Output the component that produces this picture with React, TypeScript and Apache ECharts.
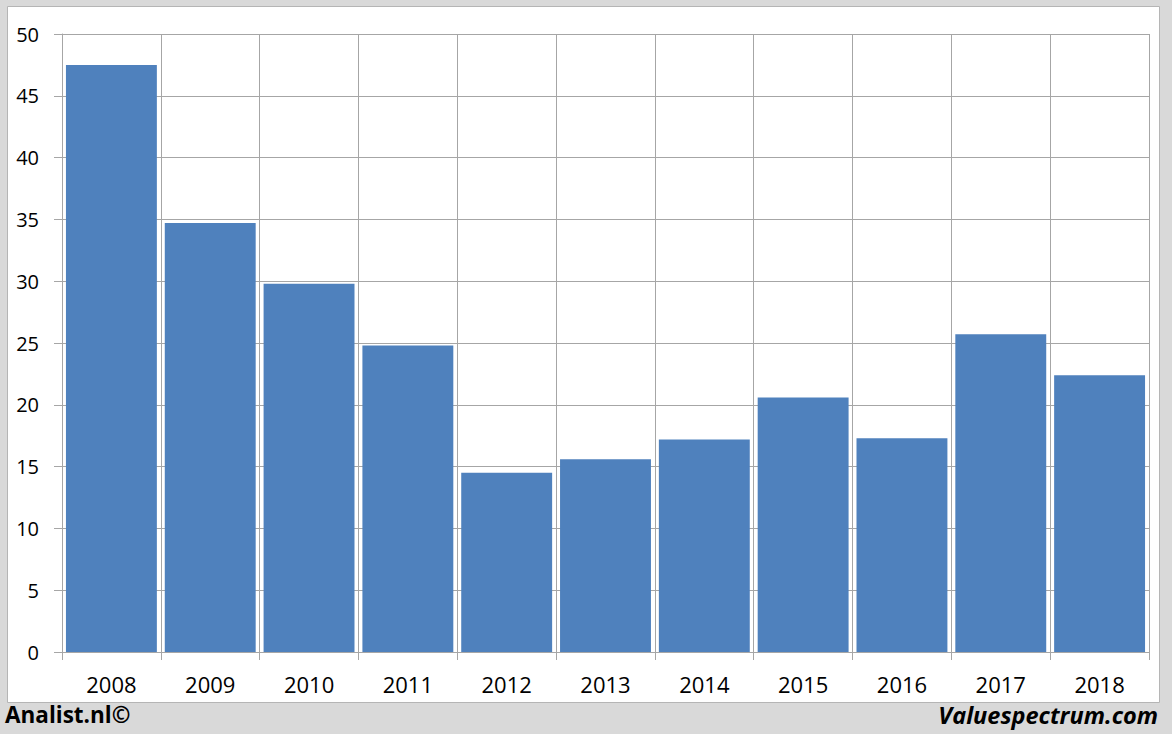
import React, { useEffect, useRef } from "react";
import * as echarts from "echarts";

const years = ["2008", "2009", "2010", "2011", "2012", "2013", "2014", "2015", "2016", "2017", "2018"];
const values = [47.5, 34.7, 29.8, 24.8, 14.5, 15.6, 17.2, 20.6, 17.3, 25.7, 22.4];
const footerLeft = "Analist.nl©";
const footerRight = "Valuespectrum.com";

export default function App() {
  const ref = useRef<HTMLDivElement>(null);
  useEffect(() => {
    document.body.style.margin = "0";
    const chart = echarts.init(ref.current!, null, { renderer: "svg" });
    const gridColor = "#a6a6a6";
    chart.setOption({
      animation: false,
      backgroundColor: "#d9d9d9",
      graphic: [
        {
          type: "rect",
          shape: { x: 7.5, y: 6.5, width: 1152, height: 696 },
          style: { fill: "#ffffff", stroke: "#b5b5b5", lineWidth: 1 },
          z: -10,
          silent: true,
        },
        {
          type: "text",
          left: 5,
          top: 703,
          style: {
            text: footerLeft,
            font: "bold 22.5px 'Open Sans'",
            fill: "#000000",
          },
        },
        {
          type: "text",
          right: 14,
          top: 703,
          style: {
            text: footerRight,
            font: "italic bold 23.5px 'Open Sans'",
            fill: "#000000",
          },
        },
      ],
      grid: { left: 62, top: 34, right: 23, bottom: 82, containLabel: false },
      xAxis: {
        type: "category",
        data: years,
        boundaryGap: true,
        axisLine: { show: true, lineStyle: { color: gridColor } },
        axisTick: { show: true, length: 8, lineStyle: { color: gridColor } },
        splitLine: { show: true, lineStyle: { color: gridColor, width: 1 } },
        axisLabel: {
          color: "#000000",
          fontFamily: "Open Sans",
          fontSize: 22,
          margin: 21,
        },
      },
      yAxis: {
        type: "value",
        min: 0,
        max: 50,
        interval: 5,
        axisLine: { show: true, lineStyle: { color: gridColor } },
        axisTick: { show: true, length: 8, lineStyle: { color: gridColor } },
        splitLine: { show: true, lineStyle: { color: gridColor, width: 1 } },
        axisLabel: {
          color: "#000000",
          fontFamily: "Open Sans",
          fontSize: 20,
          margin: 23,
        },
      },
      series: [
        {
          type: "bar",
          data: values,
          barCategoryGap: "8%",
          itemStyle: { color: "#4f81bd" },
        },
      ],
    });
    return () => chart.dispose();
  }, []);
  return <div ref={ref} style={{ width: 1172, height: 734, position: "absolute", left: 0, top: 0 }} />;
}
